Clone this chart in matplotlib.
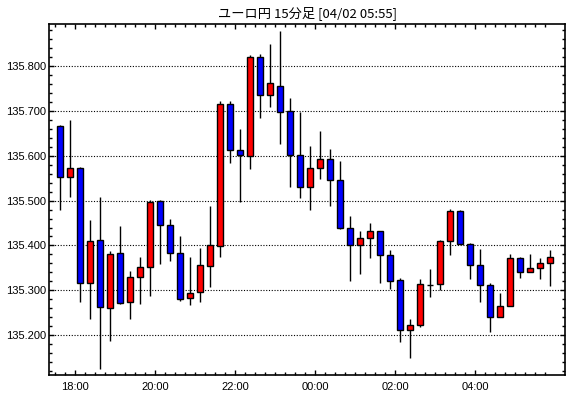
import numpy as np
import pandas as pd
import matplotlib
matplotlib.use('Agg')
import matplotlib.pyplot as plt
from matplotlib.ticker import FixedLocator, MultipleLocator, FormatStrFormatter


# Dữ liệu nến 15 phút
times = pd.date_range('2024-04-01 17:30', periods=50, freq='15min')

opens = [135.667, 135.552, 135.573, 135.316, 135.412, 135.260, 135.383, 135.273, 135.329, 135.351,
         135.499, 135.445, 135.383, 135.282, 135.296, 135.354, 135.398, 135.715, 135.612, 135.599,
         135.820, 135.735, 135.755, 135.700, 135.601, 135.530, 135.572, 135.592, 135.546, 135.438,
         135.400, 135.416, 135.432, 135.378, 135.322, 135.211, 135.222, 135.312, 135.313, 135.409,
         135.476, 135.403, 135.356, 135.311, 135.240, 135.264, 135.371, 135.340, 135.349, 135.360]
highs = [135.669, 135.679, 135.574, 135.457, 135.508, 135.388, 135.444, 135.343, 135.375, 135.501,
         135.501, 135.459, 135.421, 135.375, 135.394, 135.489, 135.723, 135.722, 135.659, 135.825,
         135.827, 135.850, 135.879, 135.729, 135.697, 135.622, 135.656, 135.615, 135.589, 135.466,
         135.432, 135.450, 135.432, 135.389, 135.327, 135.236, 135.325, 135.348, 135.412, 135.481,
         135.479, 135.405, 135.392, 135.316, 135.293, 135.380, 135.374, 135.380, 135.371, 135.389]
lows = [135.479, 135.507, 135.273, 135.237, 135.125, 135.187, 135.269, 135.237, 135.270, 135.288,
        135.358, 135.366, 135.275, 135.267, 135.273, 135.308, 135.375, 135.583, 135.496, 135.571,
        135.685, 135.708, 135.626, 135.531, 135.505, 135.478, 135.549, 135.489, 135.437, 135.321,
        135.337, 135.371, 135.316, 135.302, 135.185, 135.150, 135.217, 135.284, 135.300, 135.378,
        135.403, 135.325, 135.273, 135.206, 135.240, 135.264, 135.327, 135.340, 135.325, 135.310]
closes = [135.552, 135.572, 135.316, 135.409, 135.262, 135.380, 135.271, 135.329, 135.351, 135.496,
          135.445, 135.383, 135.280, 135.293, 135.356, 135.402, 135.715, 135.612, 135.601, 135.820,
          135.735, 135.762, 135.697, 135.601, 135.530, 135.572, 135.592, 135.546, 135.438, 135.400,
          135.416, 135.432, 135.378, 135.320, 135.211, 135.222, 135.313, 135.312, 135.409, 135.476,
          135.403, 135.356, 135.311, 135.240, 135.264, 135.371, 135.340, 135.349, 135.360, 135.374]

title = 'ユーロ円 15分足 [04/02 05:55]'

o = np.array(opens)
h = np.array(highs)
l = np.array(lows)
c = np.array(closes)
x = np.arange(len(o))

# Nến tăng màu đỏ, nến giảm màu xanh
colors = np.where(c >= o, '#ff0000', '#0000ff')
body_bottom = np.minimum(o, c)
body_height = np.abs(c - o)

fig = plt.figure(figsize=(5.7, 3.98), dpi=100)
ax = fig.add_axes([49 / 570, 23 / 398, 516 / 570, 351 / 398])

ax.vlines(x, l, h, color='black', linewidth=1.0, zorder=2)
ax.bar(x, body_height, bottom=body_bottom, width=0.6, color=colors,
       edgecolor='black', linewidth=1.0, zorder=3)

ax.set_xlim(-1.1, 50.5)
ax.set_ylim(135.111, 135.894)

# Trục x: vạch chính mỗi 2 giờ, vạch phụ mỗi cây nến
major_pos = []
major_lab = []
for i, t in enumerate(times):
    if t.minute == 0 and t.hour % 2 == 0:
        major_pos.append(i - 0.5)
        major_lab.append(t.strftime('%H:%M'))
ax.xaxis.set_major_locator(FixedLocator(major_pos))
ax.set_xticklabels(major_lab)
ax.xaxis.set_minor_locator(FixedLocator(x - 0.5))

ax.yaxis.set_major_locator(MultipleLocator(0.1))
ax.yaxis.set_minor_locator(MultipleLocator(0.02))
ax.yaxis.set_major_formatter(FormatStrFormatter('%.3f'))

ax.tick_params(which='both', direction='in', top=True, right=True, color='black', width=1.0)
ax.tick_params(which='major', length=3.6)
ax.tick_params(which='minor', length=2.2)
ax.tick_params(axis='x', pad=5, labelsize=8)
ax.tick_params(axis='y', pad=2, labelsize=8)
for lab in ax.get_xticklabels() + ax.get_yticklabels():
    lab.set_family('Liberation Sans')

ax.grid(axis='y', which='major', color='black', linestyle=(0, (1, 1.5)), linewidth=0.8)
ax.set_axisbelow(True)

for s in ax.spines.values():
    s.set_linewidth(1.2)
    s.set_color('black')

fig.text(307 / 570, 1 - 13 / 398, title, ha='center', va='center', fontsize=9.5,
         family=['Noto Sans CJK JP', 'DejaVu Sans'])

fig.savefig('out.png', dpi=100)
